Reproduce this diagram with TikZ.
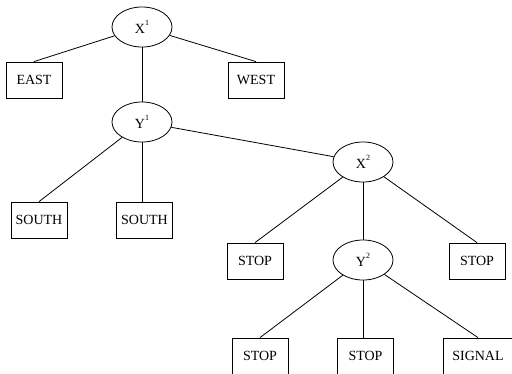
\documentclass[tikz,border=0pt]{standalone}
\usepackage{fontspec}
\setmainfont{Liberation Serif}
\usetikzlibrary{shapes.geometric}

\newcommand{\idx}[1]{\raisebox{0.6em}{\fontsize{8}{8}\selectfont #1}}

\begin{document}
\begin{tikzpicture}[x=1pt, y=-1pt, line width=0.8pt, font=\fontsize{14}{16}\selectfont]
			\useasboundingbox (0,0) rectangle (512,373);

			\begin{scope}[every node/.style={ellipse, draw, minimum width=60pt, minimum height=40pt, inner sep=0pt}]
				\node (x1) at (142,27) {X\idx{1}};
				\node (y1) at (142,122) {Y\idx{1}};
				\node (x2) at (363,162) {X\idx{2}};
				\node (y2) at (363,260) {Y\idx{2}};
			\end{scope}

			\begin{scope}[every node/.style={rectangle, draw, minimum width=56pt, minimum height=36pt, inner xsep=4pt}]
				\node (east) at (34,80) {EAST};
				\node (west) at (256,80) {WEST};
				\node (south1) at (39,220) {SOUTH};
				\node (south2) at (144.5,220) {SOUTH};
				\node (stop1) at (255,261) {STOP};
				\node (stop2) at (477,261) {STOP};
				\node (stop3) at (260,356) {STOP};
				\node (stop4) at (365.5,356) {STOP};
				\node[minimum width=70pt] (signal) at (478,356) {SIGNAL};
			\end{scope}

			\draw (x1) -- (east.north);
			\draw (x1) -- (west.north);
			\draw (x1) -- (y1);
			\draw (y1) -- (south1.north);
			\draw (y1.south) -- (y1.south |- south2.north);
			\draw (y1) -- (x2);
			\draw (x2) -- (stop1.north);
			\draw (x2) -- (y2);
			\draw (x2) -- (stop2.north);
			\draw (y2) -- (stop3.north);
			\draw (y2.south) -- (y2.south |- stop4.north);
			\draw (y2) -- (signal.north);
		\end{tikzpicture}
\end{document}
